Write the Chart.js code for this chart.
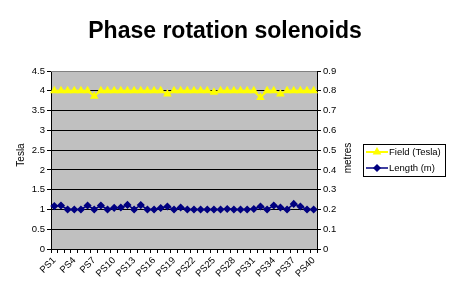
<!DOCTYPE html>
<html><head><meta charset="utf-8">
<script src="https://cdn.jsdelivr.net/npm/chart.js@4/dist/chart.umd.min.js"></script>
<style>html,body{margin:0;padding:0;background:#fff;}#wrap{width:451px;height:297px;}</style>
</head><body><div id="wrap"><canvas id="c" width="451" height="297"></canvas></div>
<script>
const categories = ["PS1","PS2","PS3","PS4","PS5","PS6","PS7","PS8","PS9","PS10",
  "PS11","PS12","PS13","PS14","PS15","PS16","PS17","PS18","PS19","PS20",
  "PS21","PS22","PS23","PS24","PS25","PS26","PS27","PS28","PS29","PS30",
  "PS31","PS32","PS33","PS34","PS35","PS36","PS37","PS38","PS39","PS40"];
const fieldTesla = [4,4,4,4,4,4,3.86,4,4,4,
  4,4,4,4,4,4,4,3.92,4,4,
  4,4,4,4,3.96,4,4,4,4,4,
  4,3.83,4,4,3.92,4,4,4,4,4];
const lengthMetres = [0.217,0.22,0.2,0.2,0.2,0.22,0.2,0.22,0.2,0.208,
  0.21,0.223,0.2,0.222,0.2,0.2,0.207,0.215,0.2,0.21,
  0.2,0.2,0.2,0.2,0.2,0.2,0.202,0.2,0.2,0.2,
  0.202,0.215,0.2,0.22,0.21,0.2,0.228,0.215,0.2,0.2];
const titleText = "Phase rotation solenoids";
const leftTitle = "Tesla";
const rightTitle = "metres";
const seriesNames = ["Field (Tesla)", "Length (m)"];

const FONT = "Arial, 'Liberation Sans', sans-serif";

const decor = {
  id: 'decor',
  beforeDraw(chart) {
    const {ctx, chartArea: a} = chart;
    ctx.save();
    ctx.fillStyle = '#C0C0C0';
    ctx.fillRect(a.left, a.top, a.right - a.left, a.bottom - a.top);
    ctx.restore();
  },
  afterDraw(chart) {
    const {ctx, chartArea: a} = chart;
    ctx.save();
    ctx.fillStyle = '#000';
    ctx.font = "bold 23px " + FONT;
    ctx.textAlign = 'center';
    ctx.textBaseline = 'middle';
    ctx.fillText(titleText, 225, 32);
    ctx.font = "10px " + FONT;
    ctx.save();
    ctx.translate(21, 155);
    ctx.rotate(-Math.PI / 2);
    ctx.fillText(leftTitle, 0, 0);
    ctx.restore();
    ctx.save();
    ctx.translate(348, 158);
    ctx.rotate(-Math.PI / 2);
    ctx.fillText(rightTitle, 0, 0);
    ctx.restore();
    // legend
    ctx.fillStyle = '#fff';
    ctx.fillRect(363.5, 144.5, 82, 32);
    ctx.strokeStyle = '#000';
    ctx.lineWidth = 1;
    ctx.strokeRect(363.5, 144.5, 82, 32);
    const rows = [152, 168];
    chart.data.datasets.forEach((ds, i) => {
      const y = rows[i];
      ctx.strokeStyle = ds.borderColor;
      ctx.lineWidth = ds.borderWidth;
      ctx.beginPath();
      ctx.moveTo(366, y);
      ctx.lineTo(388, y);
      ctx.stroke();
      ctx.fillStyle = ds.pointBackgroundColor;
      ctx.strokeStyle = ds.pointBorderColor;
      Chart.helpers.drawPoint(ctx, {pointStyle: ds.pointStyle, radius: ds.pointRadius, borderWidth: 1, rotation: 0}, 377, y);
      ctx.fillStyle = '#000';
      ctx.font = "9.5px " + FONT;
      ctx.textAlign = 'left';
      ctx.textBaseline = 'middle';
      ctx.fillText(ds.label, 389, y);
    });
    ctx.strokeStyle = '#808080';
    ctx.lineWidth = 1;
    ctx.beginPath();
    ctx.moveTo(a.left, a.top + 0.5);
    ctx.lineTo(a.right, a.top + 0.5);
    ctx.stroke();
    ctx.restore();
  }
};

const fmt = v => String(+Number(v).toFixed(2));

new Chart(document.getElementById('c'), {
  type: 'line',
  data: {
    labels: categories,
    datasets: [
      {label: seriesNames[0], data: fieldTesla, yAxisID: 'y',
       borderColor: '#FFFF00', backgroundColor: '#FFFF00', borderWidth: 2,
       pointStyle: 'triangle', pointRadius: 3, pointBackgroundColor: '#FFFF00', pointBorderColor: '#FFFF00',
       tension: 0, fill: false},
      {label: seriesNames[1], data: lengthMetres, yAxisID: 'y2',
       borderColor: '#000080', backgroundColor: '#000080', borderWidth: 1.5,
       pointStyle: 'rectRot', pointRadius: 3, pointBackgroundColor: '#000080', pointBorderColor: '#000080',
       tension: 0, fill: false}
    ]
  },
  options: {
    responsive: false,
    animation: false,
    devicePixelRatio: 1,
    layout: {padding: {top: 71, left: 0, right: 100, bottom: 0}},
    plugins: {legend: {display: false}, tooltip: {enabled: false}, title: {display: false}},
    scales: {
      x: {
        type: 'category', offset: true,
        grid: {offset: true, drawOnChartArea: false, color: '#000', tickColor: '#000', tickLength: 4},
        border: {color: '#000', width: 1},
        ticks: {autoSkip: false, minRotation: 45, maxRotation: 45, padding: 2, color: '#000',
                font: {family: FONT, size: 9.5},
                callback: (v, i) => (i % 3 === 0 ? categories[i] : '')},
        afterFit: s => { s.height = 48; }
      },
      y: {
        position: 'left', min: 0, max: 4.5,
        grid: {color: '#000', tickColor: '#000', tickLength: 4, lineWidth: 1},
        border: {color: '#000', width: 1},
        ticks: {stepSize: 0.5, padding: 2, color: '#000', font: {family: FONT, size: 9.5}, callback: fmt},
        afterFit: s => { s.width = 51; }
      },
      y2: {
        position: 'right', min: 0, max: 0.9,
        grid: {drawOnChartArea: false, color: '#000', tickColor: '#000', tickLength: 4},
        border: {color: '#000', width: 1},
        ticks: {stepSize: 0.1, padding: 2, color: '#000', font: {family: FONT, size: 9.5}, callback: fmt},
        afterFit: s => { s.width = 34; }
      }
    }
  },
  plugins: [decor]
});
</script>
</body></html>
